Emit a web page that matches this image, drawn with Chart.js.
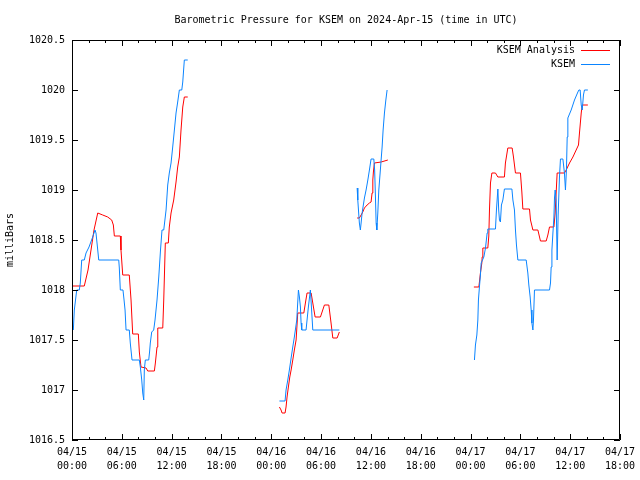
<!DOCTYPE html>
<html>
<head>
<meta charset="utf-8">
<title>Barometric Pressure for KSEM</title>
<script src="https://cdn.jsdelivr.net/npm/chart.js@4/dist/chart.umd.min.js"></script>
<style>
  html, body { margin: 0; padding: 0; background: #fff; }
</style>
</head>
<body>
<canvas id="pressureChart" width="640" height="480"></canvas>
<script>
// 時刻は 2024-04-15 00:00 UTC からの経過時間（h）、null は欠測区間
const analysisHours = [
  0, 1.48, 1.93, 2.29, 2.65, 3.10, 3.70, 4.30, 4.78, 4.98, 5.10, 5.82, 5.90, 6.11, 6.90, 7.11, 7.31, 7.99,
  8.11, 8.31, 8.92, 9.12, 9.92, 10.04, 10.24, 10.33, 10.93, 11.05, 11.24, 11.60, 11.72, 11.93, 12.25, 12.53,
  12.73, 12.93, 13.13, 13.34, 13.53, 13.94,
  19,
  24.98, 25.18, 25.30, 25.66, 25.78, 25.90, 26.06, 26.23, 26.39, 26.59, 26.78, 26.99, 27.19, 27.92, 28.11,
  28.31, 28.80, 29.00, 29.28, 29.92, 30.12, 30.40, 30.93, 31.20, 31.41, 31.93, 32.20,
  33,
  34.34, 34.61, 34.82, 35.02, 35.22, 35.54, 35.82, 36.02, 36.14, 36.23, 36.30, 36.42, 37.23, 38.04,
  43,
  48.40, 49.00, 49.07, 49.19, 49.36, 49.40, 49.48, 50.08, 50.20, 50.28, 50.40, 50.57, 51.00, 51.29, 52.08,
  52.20, 52.49, 53.01, 53.17, 53.41, 54.01, 54.18, 54.30, 55.10, 55.22, 55.51, 56.11, 56.42, 57.11, 57.31,
  57.51, 58.04, 58.19, 58.43, 59.31, 59.52, 59.92, 60.33, 60.72, 61.00, 61.12, 61.33, 61.45, 62.13
];
const analysisValues = [
  1018.04, 1018.04, 1018.2, 1018.4, 1018.6, 1018.77, 1018.75, 1018.73, 1018.7, 1018.65, 1018.54, 1018.54,
  1018.4, 1018.15, 1018.15, 1017.9, 1017.56, 1017.56, 1017.38, 1017.23, 1017.22, 1017.19, 1017.19, 1017.27,
  1017.43, 1017.62, 1017.62, 1017.9, 1018.47, 1018.47, 1018.63, 1018.77, 1018.9, 1019.08, 1019.23, 1019.33,
  1019.6, 1019.83, 1019.93, 1019.93,
  null,
  1016.83, 1016.8, 1016.77, 1016.77, 1016.83, 1016.93, 1017.03, 1017.13, 1017.2, 1017.3, 1017.4, 1017.5,
  1017.77, 1017.77, 1017.87, 1017.97, 1017.97, 1017.87, 1017.73, 1017.73, 1017.78, 1017.85, 1017.85,
  1017.67, 1017.52, 1017.52, 1017.58,
  null,
  1018.72, 1018.72, 1018.75, 1018.78, 1018.82, 1018.85, 1018.87, 1018.88, 1018.97, 1019.1, 1019.18,
  1019.27, 1019.28, 1019.3,
  null,
  1018.03, 1018.03, 1018.08, 1018.17, 1018.27, 1018.33, 1018.42, 1018.42, 1018.54, 1018.8, 1019.07,
  1019.17, 1019.17, 1019.13, 1019.13, 1019.27, 1019.42, 1019.42, 1019.33, 1019.17, 1019.17, 1018.98,
  1018.81, 1018.81, 1018.7, 1018.6, 1018.6, 1018.49, 1018.49, 1018.55, 1018.63, 1018.63, 1018.77, 1019.17,
  1019.17, 1019.2, 1019.27, 1019.33, 1019.4, 1019.45, 1019.57, 1019.77, 1019.85, 1019.85
];

const ksemHours = [
  0.16, 0.28, 0.57, 0.88, 1.00, 1.17, 1.48, 1.69, 2.05, 2.49, 2.77, 2.89, 3.10, 3.22, 5.63, 5.70, 5.82, 6.14,
  6.27, 6.39, 6.51, 6.90, 7.02, 7.23, 8.11, 8.23, 8.40, 8.52, 8.64, 8.71, 8.83, 9.24, 9.34, 9.43, 9.60, 9.84,
  10.00, 10.24, 10.45, 10.66, 10.84, 11.05, 11.33, 11.53, 11.72, 11.93, 12.13, 12.33, 12.53, 12.73, 12.93,
  13.22, 13.34, 13.53, 13.94,
  19,
  24.98, 25.66, 25.78, 25.99, 26.18, 26.39, 26.59, 26.78, 26.90, 27.07, 27.27, 27.39, 27.51, 27.59, 27.67,
  28.19, 28.31, 28.47, 28.71, 28.88, 29.00, 32.20,
  33,
  34.34, 34.42, 34.61, 34.73, 34.82, 34.94, 35.22, 35.42, 35.63, 35.82, 36.02, 36.35, 36.45, 36.54, 36.63,
  36.71, 36.83, 36.95, 37.11, 37.23, 37.35, 37.47, 37.63, 37.80, 37.95,
  43,
  48.47, 48.59, 48.76, 48.88, 48.95, 49.07, 49.19, 49.28, 49.60, 49.80, 50.00, 50.08, 51.00, 51.12, 51.29,
  51.39, 51.48, 51.60, 51.72, 51.89, 52.08, 52.98, 53.10, 53.29, 53.41, 53.53, 53.70, 54.70, 54.90, 55.02,
  55.18, 55.30, 55.39, 55.51, 55.58, 55.70, 57.51, 57.63, 57.71, 57.80, 57.92, 58.04, 58.11, 58.19, 58.31,
  58.43, 58.55, 58.71, 58.83, 59.12, 59.31, 59.43, 59.55, 59.64, 59.72, 60.12, 60.52, 60.93, 61.05, 61.20,
  61.33, 61.45, 61.60, 61.72, 62.13
];
const ksemValues = [
  1017.6, 1017.8, 1018.0, 1018.0, 1018.07, 1018.3, 1018.3, 1018.37, 1018.43, 1018.53, 1018.6, 1018.57,
  1018.4, 1018.3, 1018.3, 1018.22, 1018.0, 1018.0, 1017.9, 1017.8, 1017.6, 1017.6, 1017.47, 1017.3, 1017.3,
  1017.23, 1017.1, 1016.97, 1016.9, 1017.2, 1017.3, 1017.3, 1017.38, 1017.47, 1017.58, 1017.6, 1017.7,
  1017.9, 1018.13, 1018.4, 1018.6, 1018.6, 1018.8, 1019.05, 1019.17, 1019.27, 1019.43, 1019.6, 1019.77,
  1019.88, 1020.0, 1020.0, 1020.08, 1020.3, 1020.3,
  null,
  1016.89, 1016.89, 1017.0, 1017.1, 1017.2, 1017.32, 1017.43, 1017.53, 1017.6, 1017.7, 1018.0, 1017.93,
  1017.83, 1017.67, 1017.6, 1017.6, 1017.7, 1017.83, 1018.0, 1017.77, 1017.6, 1017.6,
  null,
  1019.02, 1018.9, 1018.67, 1018.6, 1018.67, 1018.77, 1018.92, 1019.0, 1019.1, 1019.2, 1019.31, 1019.31,
  1019.2, 1018.95, 1018.67, 1018.6, 1018.77, 1019.0, 1019.17, 1019.3, 1019.43, 1019.6, 1019.77, 1019.9,
  1020.0,
  null,
  1017.3, 1017.45, 1017.55, 1017.7, 1017.9, 1018.03, 1018.15, 1018.27, 1018.33, 1018.42, 1018.57, 1018.61,
  1018.61, 1018.8, 1019.01, 1018.8, 1018.7, 1018.68, 1018.85, 1018.9, 1019.01, 1019.01, 1018.9, 1018.8,
  1018.6, 1018.45, 1018.3, 1018.3, 1018.17, 1018.05, 1017.93, 1017.8, 1017.67, 1017.6, 1017.7, 1018.0,
  1018.0, 1018.07, 1018.23, 1018.4, 1018.57, 1018.73, 1018.92, 1019.0, 1018.9, 1018.3, 1018.75, 1019.13,
  1019.31, 1019.31, 1019.17, 1019.0, 1019.2, 1019.53, 1019.72, 1019.8, 1019.9, 1019.98, 1020.0, 1020.0,
  1019.85, 1019.8, 1019.95, 1020.0, 1020.0
];

// 軸目盛り
const xTickHours = [0, 6, 12, 18, 24, 30, 36, 42, 48, 54, 60, 66];
const xTickLabels = [
  ['04/15', '00:00'], ['04/15', '06:00'], ['04/15', '12:00'], ['04/15', '18:00'],
  ['04/16', '00:00'], ['04/16', '06:00'], ['04/16', '12:00'], ['04/16', '18:00'],
  ['04/17', '00:00'], ['04/17', '06:00'], ['04/17', '12:00'], ['04/17', '18:00']
];
const yTickValues = [1016.5, 1017, 1017.5, 1018, 1018.5, 1019, 1019.5, 1020, 1020.5];
const yTickLabels = ['1016.5', '1017', '1017.5', '1018', '1018.5', '1019', '1019.5', '1020', '1020.5'];

const FONT = 'DejaVu Sans Mono';

/**
 * 時刻と値の配列から {x, y} の点列を作る
 */
function toPoints(hours, values) {
  return hours.map((h, i) => ({ x: h, y: values[i] }));
}

// gnuplot 風の内向き目盛りと枠
const frameTicks = {
  id: 'frameTicks',
  afterDraw(chart) {
    const { ctx, chartArea: a, scales: { x, y } } = chart;
    ctx.save();
    ctx.strokeStyle = '#000';
    ctx.lineWidth = 1;
    ctx.beginPath();
    ctx.rect(a.left + 0.5, a.top + 0.5, a.right - a.left - 1, a.bottom - a.top - 1);
    for (let h = 0; h <= 66; h += 2) {
      const px = Math.round(x.getPixelForValue(h)) + 0.5;
      const len = xTickHours.includes(h) ? 6 : 3;
      ctx.moveTo(px, a.bottom); ctx.lineTo(px, a.bottom - len);
      ctx.moveTo(px, a.top); ctx.lineTo(px, a.top + len);
    }
    yTickValues.forEach(v => {
      const py = Math.round(y.getPixelForValue(v)) + 0.5;
      ctx.moveTo(a.left, py); ctx.lineTo(a.left + 6, py);
      ctx.moveTo(a.right, py); ctx.lineTo(a.right - 6, py);
    });
    ctx.stroke();
    ctx.restore();
  }
};

// 凡例（グラフ内右上）
const insideLegend = {
  id: 'insideLegend',
  afterDraw(chart) {
    const { ctx, chartArea: a } = chart;
    ctx.save();
    ctx.font = '10px ' + FONT;
    ctx.fillStyle = '#000';
    ctx.textAlign = 'right';
    ctx.textBaseline = 'middle';
    chart.data.datasets.forEach((ds, i) => {
      const yy = a.top + 10 + i * 14;
      ctx.fillText(ds.label, a.right - 45, yy);
      ctx.strokeStyle = ds.borderColor;
      ctx.lineWidth = 1;
      ctx.beginPath();
      ctx.moveTo(a.right - 39, Math.round(yy) + 0.5);
      ctx.lineTo(a.right - 10, Math.round(yy) + 0.5);
      ctx.stroke();
    });
    ctx.restore();
  }
};

function createPressureChart() {
  const ctx = document.getElementById('pressureChart').getContext('2d');
  Chart.defaults.font.family = FONT;
  Chart.defaults.font.size = 10;
  Chart.defaults.color = '#000';

  new Chart(ctx, {
    type: 'line',
    data: {
      datasets: [{
        label: 'KSEM Analysis',
        data: toPoints(analysisHours, analysisValues),
        borderColor: '#ff0000',
        borderWidth: 1,
        pointRadius: 0,
        tension: 0,
        spanGaps: false,
        order: 1
      }, {
        label: 'KSEM',
        data: toPoints(ksemHours, ksemValues),
        borderColor: '#0a84ff',
        borderWidth: 1,
        pointRadius: 0,
        tension: 0,
        spanGaps: false,
        order: 0
      }]
    },
    options: {
      responsive: false,
      animation: false,
      layout: { padding: { left: 0, right: 20, top: 0, bottom: 0 } },
      plugins: {
        legend: { display: false },
        tooltip: { enabled: false },
        title: {
          display: true,
          text: 'Barometric Pressure for KSEM on 2024-Apr-15 (time in UTC)',
          fullSize: false,
          font: { size: 10, weight: 'normal', family: FONT },
          padding: { top: 14, bottom: 14 }
        }
      },
      scales: {
        x: {
          type: 'linear',
          min: 0,
          max: 66,
          afterBuildTicks: scale => { scale.ticks = xTickHours.map(v => ({ value: v })); },
          afterFit: scale => {
            scale.height = 40;
            scale.paddingLeft = 0;
            scale.paddingRight = 0;
          },
          grid: { display: false, drawTicks: false },
          border: { display: false },
          ticks: {
            autoSkip: false,
            maxRotation: 0,
            padding: 5,
            font: { size: 10, lineHeight: 1.4 },
            callback: value => xTickLabels[xTickHours.indexOf(value)]
          }
        },
        y: {
          min: 1016.5,
          max: 1020.5,
          afterBuildTicks: scale => { scale.ticks = yTickValues.map(v => ({ value: v })); },
          afterFit: scale => { scale.width = 72; },
          grid: { display: false, drawTicks: false },
          border: { display: false },
          title: {
            display: true,
            text: 'milliBars',
            font: { size: 10 },
            padding: { top: 4, bottom: 0 }
          },
          ticks: {
            padding: 7,
            callback: value => yTickLabels[yTickValues.indexOf(value)]
          }
        }
      }
    },
    plugins: [frameTicks, insideLegend]
  });
}

createPressureChart();
</script>
</body>
</html>
